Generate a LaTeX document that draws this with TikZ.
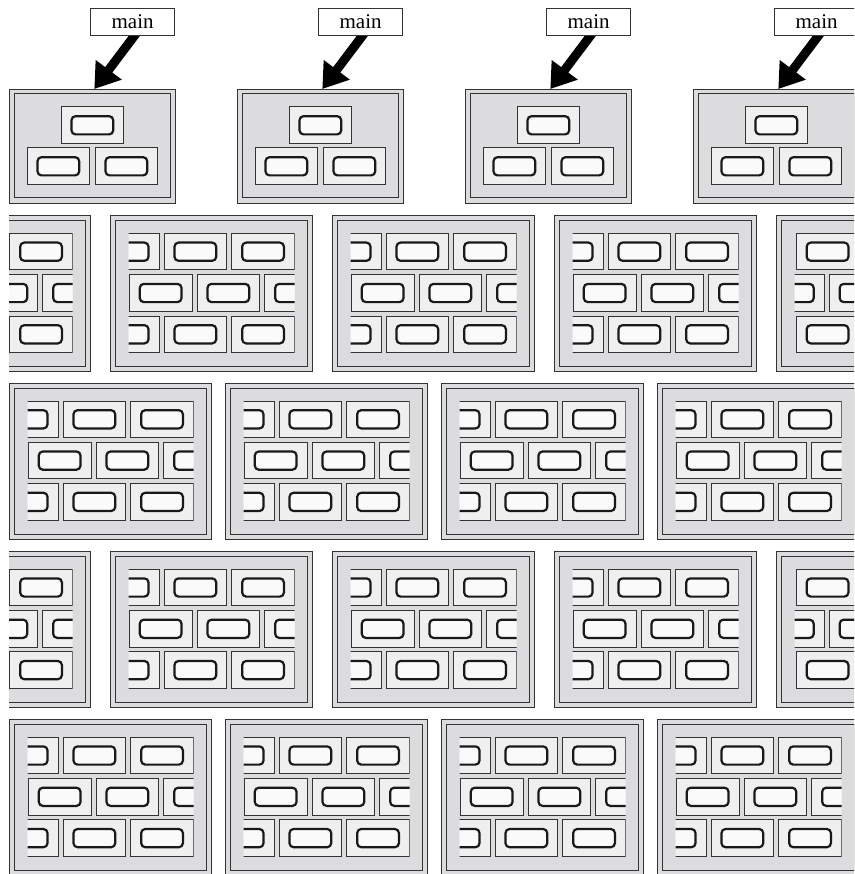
\documentclass[tikz,border=0pt]{standalone}
\usepackage{fontspec}
\setmainfont{Liberation Serif}
\usetikzlibrary{arrows.meta}
\pgfdeclarelayer{bg}
\pgfsetlayers{bg,main}
\definecolor{modgray}{HTML}{DCDCDE}
\definecolor{brickgray}{HTML}{EFEFF0}
\definecolor{slotwhite}{HTML}{FAFAFA}
\definecolor{edgecol}{HTML}{333333}
\tikzset{
  modouter/.style={fill=modgray, draw=edgecol, line width=1.3pt},
  modinner/.style={draw=edgecol, line width=1pt},
  brickbox/.style={fill=brickgray, draw=edgecol, line width=1pt},
  slotbox/.style={fill=slotwhite, draw=black!90, line width=2.2pt, rounded corners=4pt},
  mainlabel/.style={draw=edgecol, line width=1.2pt, fill=white, minimum width=84pt,
    minimum height=27pt, inner sep=0pt, font=\fontsize{21}{21}\selectfont},
  bigarrow/.style={line width=9pt, -{Triangle[length=24pt,width=31pt]}},
}
\newcommand\brickat[2]{%
  \path[brickbox] (#1,#2) rectangle ++(62.7,36.6);
  \path[slotbox] (#1+10.5,#2+9.2) rectangle ++(41.7,18.2);
}
% optional #1: horizontal offset of the brick pattern
\newcommand\wallmod[3][0]{%
  \begin{scope}[shift={(#2,#3)}]
    \path[modouter] (0,0) rectangle (202,156);
    \path[modinner] (5,5) rectangle (197,151);
    \begin{scope}
      \clip (18.4,17.7) rectangle ++(166,119.2);
      \foreach \k in {-2,...,4} {%
        \brickat{-14+#1+\k*67.7}{17.7}%
        \brickat{-14+#1+\k*67.7}{100.3}%
        \brickat{19+#1+\k*67.7}{59}}
    \end{scope}
  \end{scope}}
\newcommand\topmod[3]{%
  \node[modouter, anchor=north west, minimum width=166pt, minimum height=114pt,
    inner sep=0pt] (#1) at (#2,#3) {};
  \begin{scope}[shift={(#2,#3)}]
    \path[modinner] (5,5) rectangle (161,109);
    \brickat{52}{18}\brickat{18}{59}\brickat{86}{59}
  \end{scope}}
\begin{document}
\begin{tikzpicture}[x=1pt,y=-1pt]
\useasboundingbox (0,0) rectangle (854,874);
\begin{scope}
\clip (9,0) rectangle (854,874);
% top row
\foreach \i/\x in {1/9,2/237,3/465,4/693} {
  \topmod{top\i}{\x}{89}
  \node[mainlabel, anchor=north west] (lab\i) at (\x+81,8) {main};
  \coordinate (tip\i) at ([xshift=85.3pt]top\i.north west);
  \begin{pgfonlayer}{bg}
    \draw[bigarrow] ([xshift=7.5pt,yshift=8pt]lab\i.south) -- (tip\i);
  \end{pgfonlayer}
}
% rows 2 and 4
\foreach \y in {215.7,551.5} {
  \foreach \x in {-111.7,110.3,332.3,554.3} {\wallmod{\x}{\y}}
  \wallmod[-101.5]{776.3}{\y}
}
% rows 3 and 5
\foreach \y in {383.3,719.5} {
  \foreach \x in {9.3,225.3,441.3,657.3} {\wallmod{\x}{\y}}
}
\end{scope}
\end{tikzpicture}
\end{document}
